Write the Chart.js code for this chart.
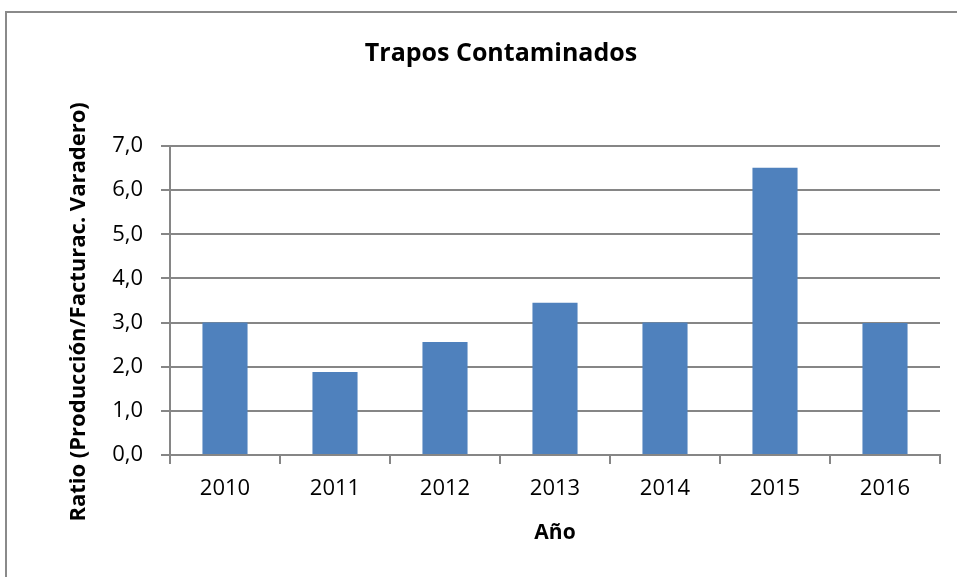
<!DOCTYPE html>
<html lang="es">
<head>
  <meta charset="UTF-8">
  <title>Trapos Contaminados</title>
  <style>
    body {
      margin: 0;
      background-color: white;
      overflow: hidden;
    }
    #marco {
      position: absolute;
      left: 5px;
      top: 11px;
      width: 1000px;
      height: 700px;
      border-left: 2px solid #8a8a8a;
      border-top: 2px solid #8a8a8a;
    }
    #grafico {
      position: absolute;
      left: 0;
      top: 0;
    }
  </style>
  <script src="https://cdn.jsdelivr.net/npm/chart.js"></script>
</head>
<body>
  <div id="marco"></div>
  <canvas id="grafico" width="957" height="577"></canvas>

  <script>
    // datos
    const anios = ["2010", "2011", "2012", "2013", "2014", "2015", "2016"];
    const ratios = [3.0, 1.88, 2.56, 3.45, 3.0, 6.51, 2.99];
    const ticksY = [0, 1, 2, 3, 4, 5, 6, 7];

    const gris = "#868686";
    const fuente = "'Open Sans', 'Liberation Sans', sans-serif";

    const ctx = document.getElementById("grafico").getContext("2d");

    new Chart(ctx, {
      type: "bar",
      data: {
        labels: anios,
        datasets: [{
          label: "Ratio",
          data: ratios,
          backgroundColor: "#4F81BD",
          borderWidth: 0,
          barPercentage: 0.41,
          categoryPercentage: 1
        }]
      },
      options: {
        responsive: false,
        animation: false,
        layout: {
          padding: { left: 62, right: 17, top: 0, bottom: 0 }
        },
        plugins: {
          legend: { display: false },
          tooltip: { enabled: false },
          title: {
            display: true,
            text: "Trapos Contaminados",
            color: "#000",
            font: { family: fuente, size: 25, weight: "bold" },
            padding: { top: 39, bottom: 77 }
          }
        },
        scales: {
          x: {
            grid: {
              drawOnChartArea: false,
              color: gris,
              lineWidth: 2,
              tickLength: 9
            },
            border: { color: gris, width: 2 },
            ticks: {
              color: "#000",
              font: { family: fuente, size: 22 },
              padding: 12
            },
            title: {
              display: true,
              text: "Año",
              color: "#000",
              font: { family: fuente, size: 21, weight: "bold" },
              padding: { top: 4, bottom: 31 }
            },
            afterFit: function (scale) { scale.height = 122; }
          },
          y: {
            min: 0,
            max: 7,
            afterBuildTicks: function (scale) {
              scale.ticks = ticksY.map(v => ({ value: v }));
            },
            grid: {
              color: gris,
              lineWidth: 2,
              tickLength: 9
            },
            border: { color: gris, width: 2 },
            ticks: {
              color: "#000",
              font: { family: fuente, size: 22 },
              padding: 18,
              callback: v => v.toFixed(1).replace(".", ",")
            },
            title: {
              display: true,
              // espacios al final para bajar un poco el texto, como en el original
              text: "Ratio (Producción/Facturac. Varadero)\u00a0\u00a0\u00a0\u00a0",
              color: "#000",
              font: { family: fuente, size: 22, weight: "bold" },
              padding: { top: 4, bottom: 4 }
            },
            afterFit: function (scale) { scale.width = 108; }
          }
        }
      }
    });
  </script>
</body>
</html>
